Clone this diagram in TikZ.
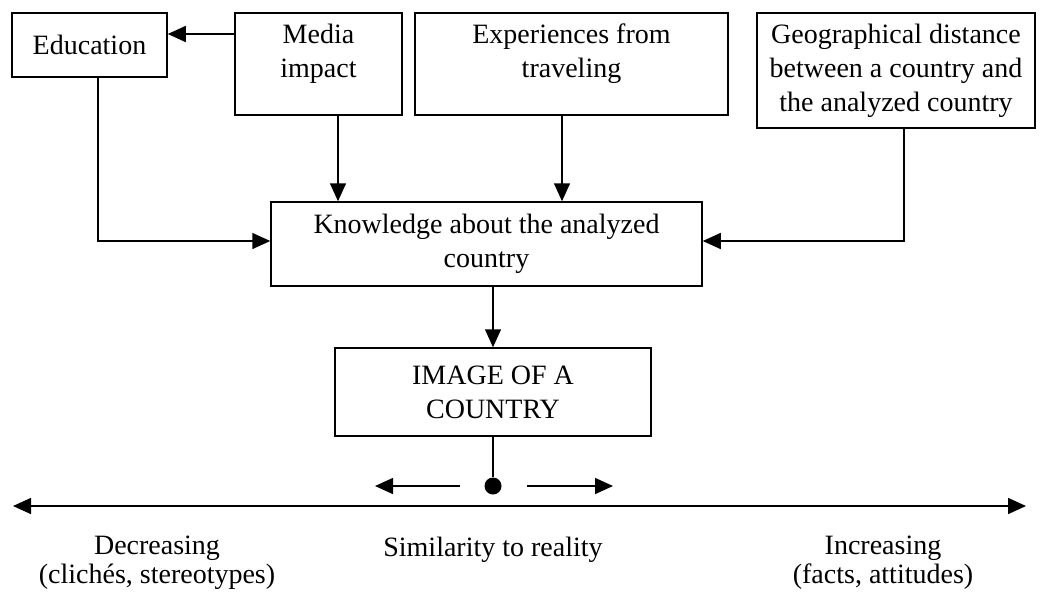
\documentclass[tikz,border=0pt]{standalone}
\usepackage{fontspec}
\setmainfont{Liberation Serif}
\usetikzlibrary{arrows.meta}
\begin{document}
\begin{tikzpicture}[x=1pt,y=-1pt,
  box/.style={draw,line width=1.5pt,align=center,inner sep=0pt,font=\fontsize{28}{34}\selectfont},
  arr/.style={line width=1.5pt,-{Triangle[length=18pt,width=16pt]}},
  darr/.style={line width=1.5pt,{Triangle[length=18pt,width=16pt]}-{Triangle[length=18pt,width=16pt]}},
  ln/.style={line width=1.5pt},
  lbl/.style={align=center,inner sep=0pt,font=\fontsize{28}{29}\selectfont}]
\useasboundingbox (0,0) rectangle (1040,592);
\node[box,minimum width=155pt,minimum height=64pt] (edu) at (89.5,45) {Education};
\node[box,minimum width=167pt,minimum height=102pt,text depth=27pt] (media) at (318.5,64) {Media\\impact};
\node[box,minimum width=313pt,minimum height=102pt,text depth=27pt] (exp) at (571.5,64) {Experiences from\\traveling};
\node[box,minimum width=278pt,minimum height=115pt] (geo) at (896,70.5) {Geographical distance\\between a country and\\the analyzed country};
\node[box,minimum width=431pt,minimum height=84pt] (know) at (486.5,244) {Knowledge about the analyzed\\country};
\node[box,minimum width=316pt,minimum height=88pt] (img) at (493,392) {IMAGE OF A\\COUNTRY};
\node[circle,fill,inner sep=0pt,minimum size=17pt] (dot) at (493,486) {};
\coordinate (ex) at (98,241);
\coordinate (gx) at (904,241);
\coordinate (mx) at (338,0);
\coordinate (xx) at (562,0);
\coordinate (my) at (0,34);
\coordinate (la) at (460,486);
\coordinate (lb) at (375,486);
\coordinate (ra) at (527,486);
\coordinate (rb) at (613,486);
\coordinate (al) at (13,506);
\coordinate (ar) at (1026,506);
\draw[arr] (media.west |- my) -- (edu.east |- my);
\draw[arr] (edu.south -| ex) |- (know.west |- ex);
\draw[arr] (media.south -| mx) -- (know.north -| mx);
\draw[arr] (exp.south -| xx) -- (know.north -| xx);
\draw[arr] (geo.south -| gx) |- (know.east |- gx);
\draw[arr] (know.south -| img.north) -- (img.north);
\draw[ln] (img.south) -- (dot);
\draw[arr] (la) -- (lb);
\draw[arr] (ra) -- (rb);
\draw[darr] (al) -- (ar);
\node[lbl] (dec) at (157,563) {Decreasing\\(clichés, stereotypes)};
\node[lbl] (sim) at (493,550) {Similarity to reality};
\node[lbl] (inc) at (883,563) {Increasing\\(facts, attitudes)};
\end{tikzpicture}
\end{document}
